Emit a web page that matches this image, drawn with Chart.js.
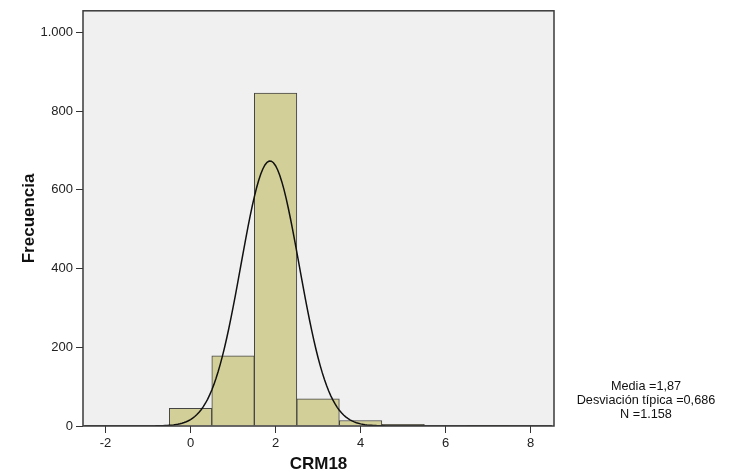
<!DOCTYPE html>
<html>
<head>
<meta charset="utf-8">
<script src="https://cdn.jsdelivr.net/npm/chart.js@4/dist/chart.umd.min.js"></script>
<style>
  html, body { margin: 0; padding: 0; background: #ffffff; }
  #wrap { width: 734px; height: 476px; position: relative; }
</style>
</head>
<body>
<div id="wrap"><canvas id="c" width="734" height="476"></canvas></div>
<script>
// Histogram of CRM18: bin centres (width 1) and frequencies
const binCenters = [0, 1, 2, 3, 4, 5, 7];
const frequencies = [45, 178, 846, 69, 14, 4, 2];

// Summary statistics printed beside the plot
const media = 1.87;
const desviacion = 0.686;
const nTotal = 1158;
const statLines = ['Media =1,87', 'Desviación típica =0,686', 'N =1.158'];

// Axis ticks
const xTicks = [-2, 0, 2, 4, 6, 8];
const yTicks = [0, 200, 400, 600, 800, 1000];

// Fitted normal curve scaled to the histogram (N * bin width * density)
const binWidth = 1;
const curve = [];
for (let i = 0; i <= 220; i++) {
  const x = -2.5 + i * 0.05;
  const z = (x - media) / desviacion;
  curve.push({ x: x, y: nTotal * binWidth * Math.exp(-0.5 * z * z) / (desviacion * Math.sqrt(2 * Math.PI)) });
}

const fmtMiles = v => String(v).replace(/\B(?=(\d{3})+(?!\d))/g, '.');
const FONT = '"Liberation Sans", Arial, sans-serif';

const plotFrame = {
  id: 'plotFrame',
  beforeDatasetsDraw(chart) {
    const { ctx, chartArea: a } = chart;
    ctx.save();
    ctx.fillStyle = '#f0f0f0';
    ctx.fillRect(a.left, a.top, a.right - a.left, a.bottom - a.top);
    ctx.restore();
  },
  afterDatasetsDraw(chart) {
    const { ctx, chartArea: a } = chart;
    ctx.save();
    ctx.strokeStyle = '#3a3a3a';
    ctx.lineWidth = 1.5;
    ctx.strokeRect(a.left, a.top, a.right - a.left, a.bottom - a.top);
    ctx.restore();
  },
  afterDraw(chart) {
    const { ctx } = chart;
    ctx.save();
    ctx.fillStyle = '#111';
    ctx.font = '12.7px ' + FONT;
    ctx.textAlign = 'center';
    ctx.textBaseline = 'middle';
    statLines.forEach((t, i) => ctx.fillText(t, 646, 386 + i * 14));
    ctx.restore();
  }
};

new Chart(document.getElementById('c'), {
  type: 'bar',
  data: {
    datasets: [
      {
        type: 'line',
        data: curve,
        borderColor: '#111111',
        borderWidth: 1.5,
        pointRadius: 0,
        tension: 0,
        fill: false,
        order: 0
      },
      {
        type: 'bar',
        data: binCenters.map((c, i) => ({ x: c, y: frequencies[i] })),
        backgroundColor: '#d3cf98',
        borderColor: '#444444',
        borderWidth: 1,
        barPercentage: 1,
        categoryPercentage: 1,
        order: 1
      }
    ]
  },
  options: {
    responsive: false,
    animation: false,
    devicePixelRatio: 1,
    layout: { padding: { top: 7, right: 180, bottom: 0, left: 0 } },
    plugins: { legend: { display: false }, tooltip: { enabled: false } },
    scales: {
      x: {
        type: 'linear',
        offset: false,
        min: -2.53,
        max: 8.55,
        afterFit(scale) { scale.height = 50; },
        afterBuildTicks(scale) { scale.ticks = xTicks.map(v => ({ value: v })); },
        grid: { offset: false, drawOnChartArea: false, drawTicks: true, tickLength: 7, color: '#333', lineWidth: 1 },
        border: { display: false },
        ticks: { color: '#222', padding: 3, font: { size: 13, family: FONT } },
        title: {
          display: true, text: 'CRM18', color: '#111',
          font: { size: 17, weight: 'bold', family: FONT },
          padding: { top: 0, bottom: 1 }
        }
      },
      y: {
        min: 0,
        max: 1055,
        afterFit(scale) { scale.width = 83; },
        afterBuildTicks(scale) { scale.ticks = yTicks.map(v => ({ value: v })); },
        grid: { drawOnChartArea: false, drawTicks: true, tickLength: 7, color: '#333', lineWidth: 1 },
        border: { display: false },
        ticks: {
          color: '#222', padding: 3,
          font: { size: 13, family: FONT },
          callback: v => fmtMiles(v)
        },
        title: {
          display: true, text: 'Frecuencia', color: '#111',
          font: { size: 17, weight: 'bold', family: FONT },
          padding: { top: 19, bottom: 0 }
        }
      }
    }
  },
  plugins: [plotFrame]
});
</script>
</body>
</html>
